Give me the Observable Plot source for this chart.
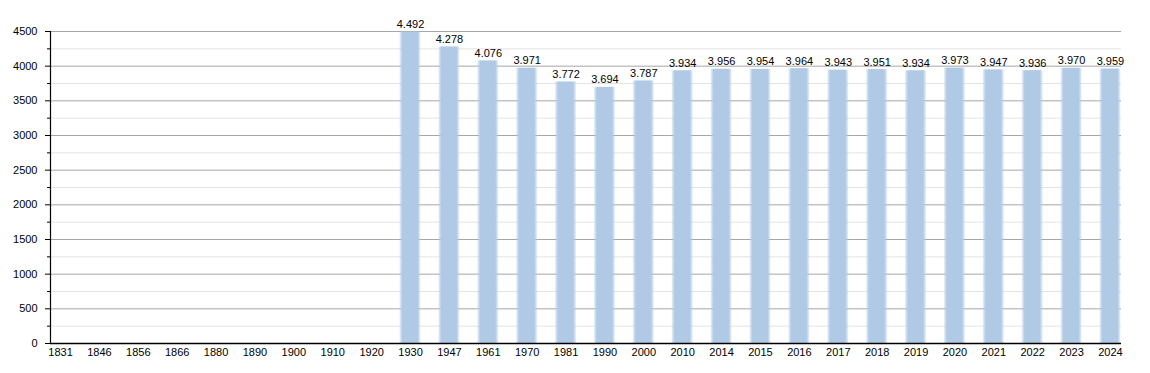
<!DOCTYPE html>
<html>
<head>
<meta charset="utf-8">
<script src="https://cdn.jsdelivr.net/npm/d3@7"></script>
<script src="https://cdn.jsdelivr.net/npm/@observablehq/plot@0.6"></script>
<style>
  html, body { margin: 0; padding: 0; background: #fff; }
  svg { display: block; }
</style>
</head>
<body>
<div id="chart"></div>
<script>
const years = ["1831","1846","1856","1866","1880","1890","1900","1910","1920","1930","1947","1961","1970","1981","1990","2000","2010","2014","2015","2016","2017","2018","2019","2020","2021","2022","2023","2024"];
const population = [null,null,null,null,null,null,null,null,null,4492,4278,4076,3971,3772,3694,3787,3934,3956,3954,3964,3943,3951,3934,3973,3947,3936,3970,3959];
const majorTicks = [0,500,1000,1500,2000,2500,3000,3500,4000,4500];
const minorTicks = [250,750,1250,1750,2250,2750,3250,3750,4250];

const data = years.map((year, i) => ({year, value: population[i]}));
const bars = data.filter(d => d.value != null);

const fmt = d3.formatLocale({decimal: ",", thousands: ".", grouping: [3], currency: ["", ""]}).format(",");

const chart = Plot.plot({
  width: 1150,
  height: 373,
  marginLeft: 50,
  marginRight: 29,
  marginTop: 31,
  marginBottom: 30,
  style: {fontFamily: "'Liberation Sans', Arial, sans-serif", fontSize: "11px", color: "#000", background: "#fff"},
  x: {type: "band", domain: years, range: [40.6, 1129.4], paddingInner: 0.46, paddingOuter: 0.23, round: false, label: null},
  y: {domain: [0, 4500], label: null},
  marks: [
    Plot.ruleY(minorTicks, {stroke: "#e4e4e4", strokeWidth: 1}),
    Plot.ruleY(majorTicks, {stroke: "#a6a6a6", strokeWidth: 1}),
    Plot.barY(bars, {x: "year", y: "value", fill: "url(#barGrad)"}),
    Plot.text(bars, {x: "year", y: "value", text: d => fmt(d.value), lineAnchor: "bottom", dy: -4, fill: "#000"}),
    Plot.axisY(minorTicks, {tickSize: 3, text: null, stroke: "#000"}),
    Plot.axisY(majorTicks, {tickSize: 5, tickPadding: 8, tickFormat: "d", stroke: "#000", fill: "#000"}),
    Plot.axisX({tickSize: 0, tickPadding: 5, fill: "#000"}),
    Plot.frame({anchor: "left", stroke: "#000", strokeWidth: 1.2}),
    Plot.ruleY([0], {stroke: "#000", strokeWidth: 1.5})
  ]
});

const svg = d3.select(chart);
const defs = svg.insert("defs", ":first-child");
const g = defs.append("linearGradient").attr("id", "barGrad").attr("x1", "0").attr("x2", "1").attr("y1", "0").attr("y2", "0");
[[0, 0.25], [0.14, 1], [0.86, 1], [1, 0.25]].forEach(([o, a]) => {
  g.append("stop").attr("offset", o).attr("stop-color", "#b0cae6").attr("stop-opacity", a);
});
document.getElementById("chart").appendChild(chart);
</script>
</body>
</html>
